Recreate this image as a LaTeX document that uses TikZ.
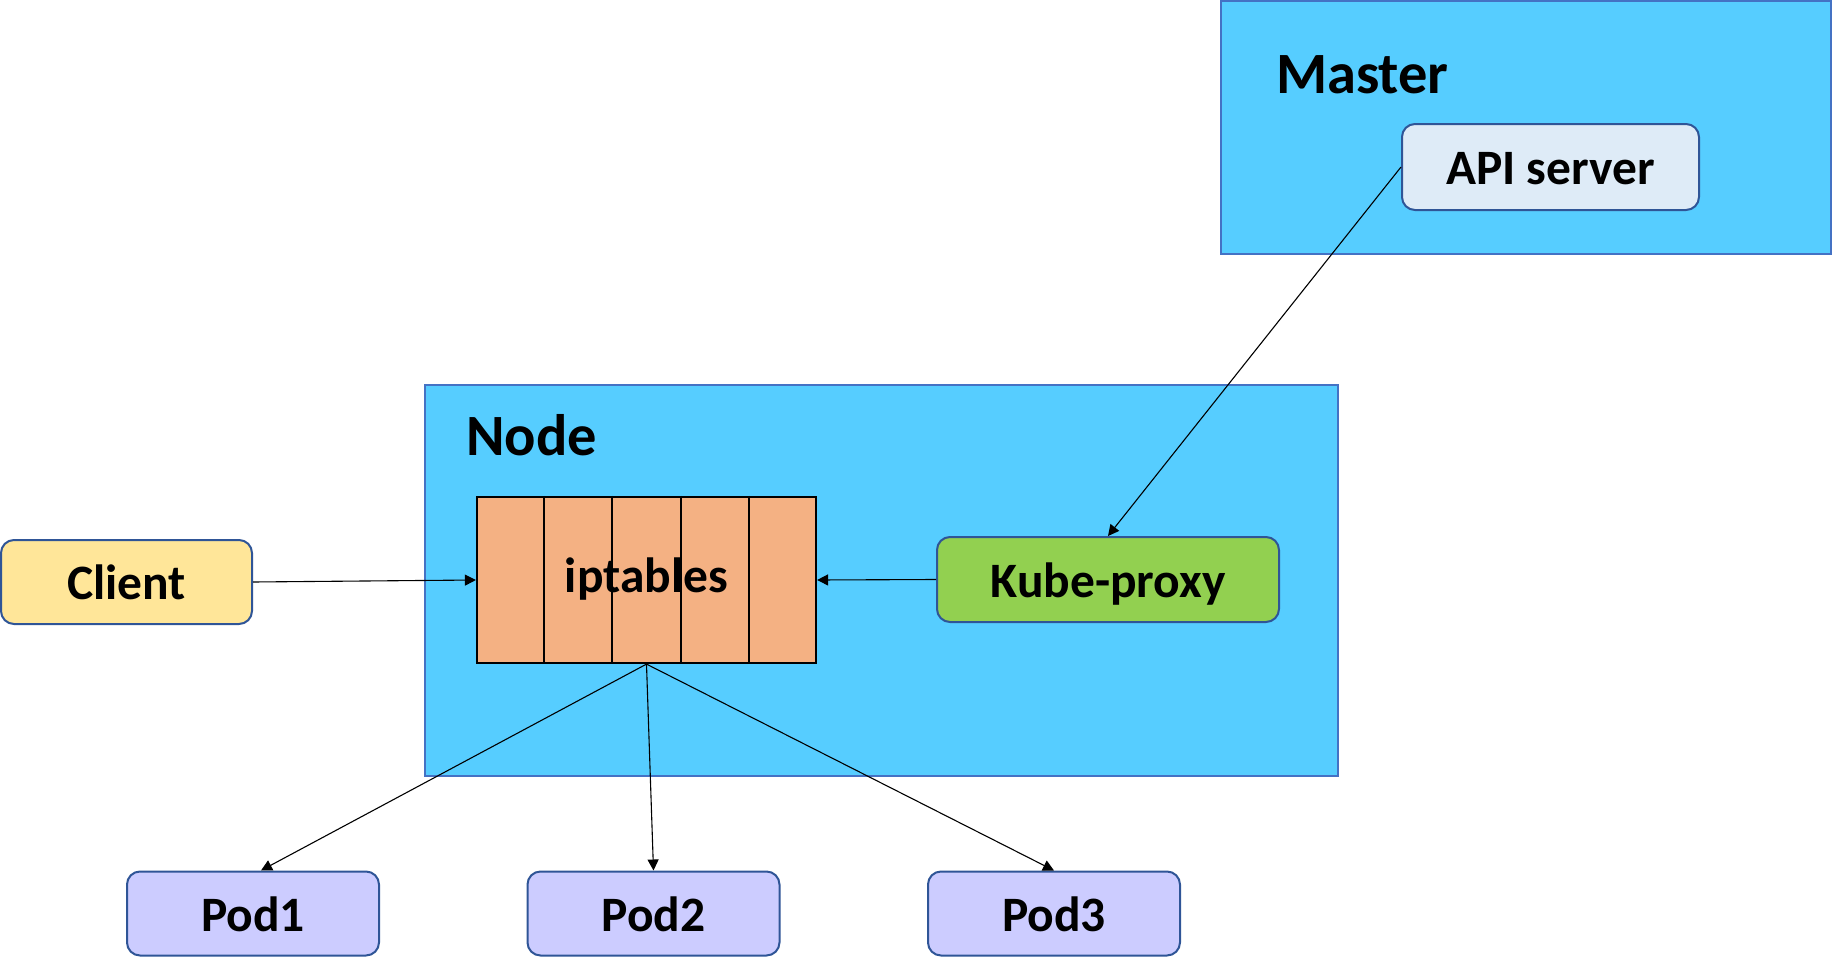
\documentclass[tikz,border=0pt]{standalone}
\usepackage{fontspec}
\setmainfont{Carlito}
\usetikzlibrary{arrows.meta,calc}
\definecolor{contblue}{RGB}{86,205,255}
\definecolor{contborder}{RGB}{68,114,196}
\definecolor{darkborder}{RGB}{47,85,151}
\definecolor{apifill}{RGB}{222,235,247}
\definecolor{iptfill}{RGB}{244,177,131}
\definecolor{kubefill}{RGB}{146,208,80}
\definecolor{clientfill}{RGB}{255,230,153}
\definecolor{podfill}{RGB}{204,204,255}
\begin{document}
\begin{tikzpicture}[x=1pt,y=-1pt,
  container/.style={draw=contborder,fill=contblue,line width=2pt,inner sep=0pt},
  title/.style={font=\fontsize{58.5}{62}\selectfont\bfseries,inner sep=0pt,anchor=base west},
  box/.style={draw=darkborder,line width=2pt,rounded corners=13pt,inner sep=0pt,
    font=\fontsize{49.5}{54}\selectfont\bfseries,text height=35.5pt,text depth=0pt,
    minimum width=252,minimum height=84},
  conn/.style={draw=black,line width=1.1pt,-{Triangle[length=11pt,width=11pt]}}
]
\useasboundingbox (0,0) rectangle (1832,974);
% containers
\node[container,minimum width=610,minimum height=253] (master) at (1526,127.5) {};
\node[title] (mastertitle) at (1276,93) {Master};
\node[container,minimum width=913,minimum height=391] (nodebox) at (881.5,580) {};
\node[title] (nodetitle) at (466,455) {Node};
% boxes
\node[box,fill=apifill,minimum width=297,minimum height=86] (api) at (1550.5,167) {API server};
\node[box,fill=kubefill,minimum width=342,minimum height=85] (kube) at (1108,579.5) {Kube-proxy};
\node[box,fill=clientfill,minimum width=251,minimum height=84] (client) at (126.5,582) {Client};
\node[box,fill=podfill] (pod1) at (253,913.5) {Pod1};
\node[box,fill=podfill] (pod2) at (653.5,913.5) {Pod2};
\node[box,fill=podfill] (pod3) at (1054,913.5) {Pod3};
% iptables
\node[draw=black,fill=iptfill,line width=2.2pt,inner sep=0pt,minimum width=339,minimum height=166] (ipt) at (646.5,580) {};
\foreach \f in {0.2,0.4,0.6,0.8}{
  \draw[line width=2pt] ($(ipt.north west)!\f!(ipt.north east)$) -- ($(ipt.south west)!\f!(ipt.south east)$);
}
\node[font=\fontsize{49.5}{54}\selectfont\bfseries,inner sep=0pt,anchor=base] (ipttext) at ([yshift=-12pt]ipt.center) {iptables};
% connectors
\draw[conn] (client.east) -- (ipt.west);
\draw[conn] (kube.west) -- (ipt.east);
\draw[conn] (api.west) -- (kube.north);
\draw[conn] (ipt.south) -- ([xshift=8pt]pod1.north);
\draw[conn] (ipt.south) -- (pod2.north);
\draw[conn] (ipt.south) -- (pod3.north);
\end{tikzpicture}
\end{document}
